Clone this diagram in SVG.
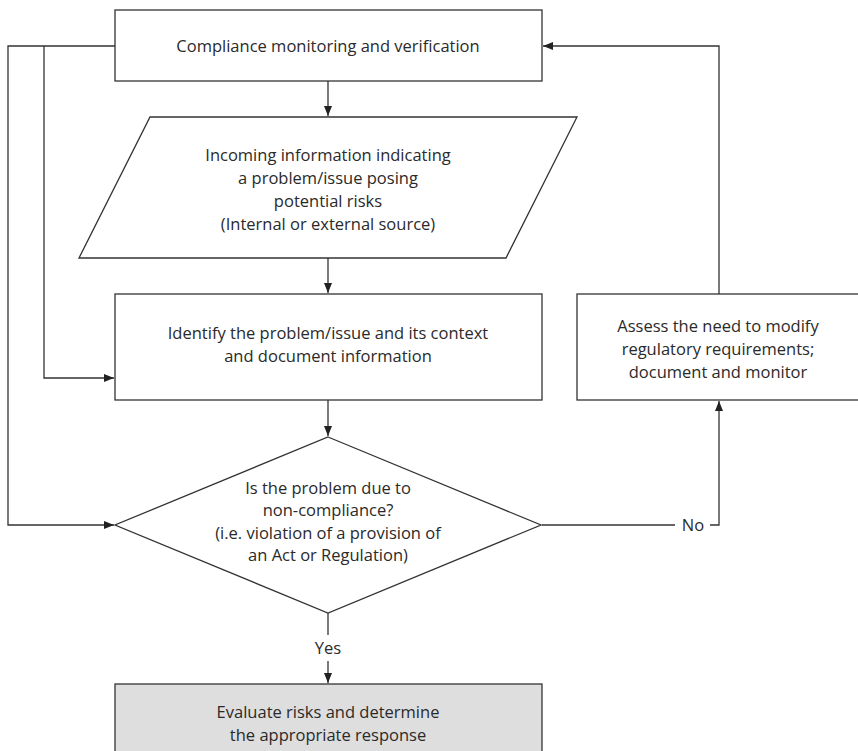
<svg xmlns="http://www.w3.org/2000/svg" width="858" height="751" viewBox="0 0 858 751">
<defs>
<style>
.shape{fill:#fff;stroke:#333;stroke-width:1.3}
.gray{fill:#dedede;stroke:#333;stroke-width:1.3}
.line{fill:none;stroke:#333;stroke-width:1.3}
text{font-family:"Open Sans","Liberation Sans",sans-serif;font-size:16.5px;fill:#2a2a2a;text-anchor:middle}
</style>
<marker id="arr" viewBox="0 0 10 10" refX="10" refY="5" markerWidth="10" markerHeight="10" markerUnits="userSpaceOnUse" orient="auto">
<path d="M0,1 L10,5 L0,9 Z" fill="#222"/>
</marker>
</defs>
<rect width="858" height="751" fill="#fff"/>
<g id="connectors">
<path class="line" d="M115,46 H8 V525 H114" marker-end="url(#arr)"/>
<path class="line" d="M44,46 V378 H114" marker-end="url(#arr)"/>
<path class="line" d="M328,81 V116" marker-end="url(#arr)"/>
<path class="line" d="M328,258 V293" marker-end="url(#arr)"/>
<path class="line" d="M328,400 V436" marker-end="url(#arr)"/>
<path class="line" d="M719,294 V46 H543" marker-end="url(#arr)"/>
<path class="line" d="M542,525 H675"/>
<path class="line" d="M710,525 H719 V401" marker-end="url(#arr)"/>
<path class="line" d="M328,613 V635"/>
<path class="line" d="M328,661 V683" marker-end="url(#arr)"/>
<text x="693" y="531">No</text>
<text x="328" y="654">Yes</text>
</g>
<g id="n1">
<rect class="shape" x="115" y="10" width="427" height="71"/>
<text x="328" y="52">Compliance monitoring and verification</text>
</g>
<g id="n2">
<polygon class="shape" points="150,117 577,117 506,258 79,258"/>
<text x="328" y="161">Incoming information indicating</text>
<text x="328" y="184">a problem/issue posing</text>
<text x="328" y="207">potential risks</text>
<text x="328" y="230">(Internal or external source)</text>
</g>
<g id="n3">
<rect class="shape" x="115" y="294" width="427" height="106"/>
<text x="328" y="339">Identify the problem/issue and its context</text>
<text x="328" y="362">and document information</text>
</g>
<g id="n4">
<rect class="shape" x="577" y="294" width="300" height="106"/>
<text x="718" y="332">Assess the need to modify</text>
<text x="718" y="355">regulatory requirements;</text>
<text x="718" y="378">document and monitor</text>
</g>
<g id="n5">
<polygon class="shape" points="328,437 541,525 328,613 115,525"/>
<text x="328" y="494">Is the problem due to</text>
<text x="328" y="516">non-compliance?</text>
<text x="328" y="539">(i.e. violation of a provision of</text>
<text x="328" y="561">an Act or Regulation)</text>
</g>
<g id="n6">
<rect class="gray" x="115" y="684" width="427" height="80"/>
<text x="328" y="718">Evaluate risks and determine</text>
<text x="328" y="741">the appropriate response</text>
</g>
</svg>
